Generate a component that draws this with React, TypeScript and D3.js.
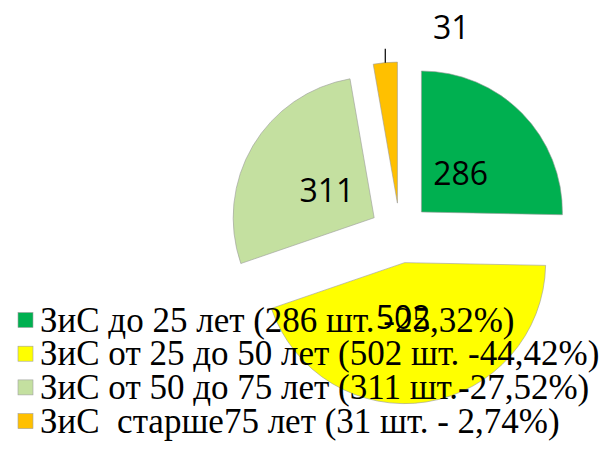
import React from "react";
import * as d3 from "d3";

const categories = [
  "ЗиС до 25 лет (286 шт. -25,32%)",
  "ЗиС от 25 до 50 лет (502 шт. -44,42%)",
  "ЗиС от 50 до 75 лет (311 шт.-27,52%)",
  "ЗиС  старше75 лет (31 шт. - 2,74%)",
];
const values = [286, 502, 311, 31];
const colors = ["#00B050", "#FFFF00", "#C4E0A0", "#FFC000"];

const W = 600;
const H = 456;
const CX = 400;
const CY = 233;
const R = 141;
const EXPLODE = 30;
const LABEL_R = 85;
const LABEL_NUDGE_X = [0, -10, 0, 0];

export default function App() {
  const pie = d3
    .pie<number>()
    .sort(null)
    .value((d) => d)
    .startAngle(0)
    .endAngle(2 * Math.PI);
  const arcs = pie(values);
  const arcGen = d3.arc<d3.PieArcDatum<number>>().innerRadius(0).outerRadius(R);

  const dir = (a: number) => [Math.sin(a), -Math.cos(a)];

  return (
    <div style={{ position: "absolute", left: 0, top: 0, width: W, height: H, background: "#fff" }}>
      <svg width={W} height={H} style={{ display: "block" }}>
        <rect width={W} height={H} fill="#fff" />
        <g transform={`translate(${CX},${CY})`}>
          {arcs.map((a, i) => {
            const mid = (a.startAngle + a.endAngle) / 2;
            const [dx, dy] = dir(mid);
            return (
              <path
                key={i}
                d={arcGen(a) || ""}
                transform={`translate(${dx * EXPLODE},${dy * EXPLODE})`}
                fill={colors[i]}
                stroke="#9a9a9a"
                strokeWidth={0.6}
              />
            );
          })}
        </g>
        {/* legend */}
        <g style={{ fontFamily: "'Liberation Serif', 'Times New Roman', serif" }} fontSize={35} fill="#000">
          {categories.map((c, i) => (
            <g key={i} transform={`translate(18, ${331.5 + i * 33.7})`}>
              <rect x={0} y={-19} width={15} height={15} fill={colors[i]} stroke="#a0a0a0" strokeWidth={0.6} />
              <text x={22} y={0} style={{ whiteSpace: "pre" }}>{c}</text>
            </g>
          ))}
        </g>
        {/* data labels */}
        <g transform={`translate(${CX},${CY})`} style={{ fontFamily: "'Open Sans', sans-serif" }} fontSize={32} fill="#000">
          {arcs.map((a, i) => {
            const mid = (a.startAngle + a.endAngle) / 2;
            const [dx, dy] = dir(mid);
            if (i === 3) {
              const ax = dx * (EXPLODE + R);
              const ay = dy * (EXPLODE + R);
              return (
                <g key={i}>
                  <line x1={ax} y1={ay} x2={ax} y2={ay - 14} stroke="#000" strokeWidth={1.2} />
                  <text x={ax + 66} y={ay - 24} textAnchor="middle">{values[i]}</text>
                </g>
              );
            }
            return (
              <text key={i} x={dx * LABEL_R + LABEL_NUDGE_X[i]} y={dy * LABEL_R + 12} textAnchor="middle">
                {values[i]}
              </text>
            );
          })}
        </g>
      </svg>
    </div>
  );
}
